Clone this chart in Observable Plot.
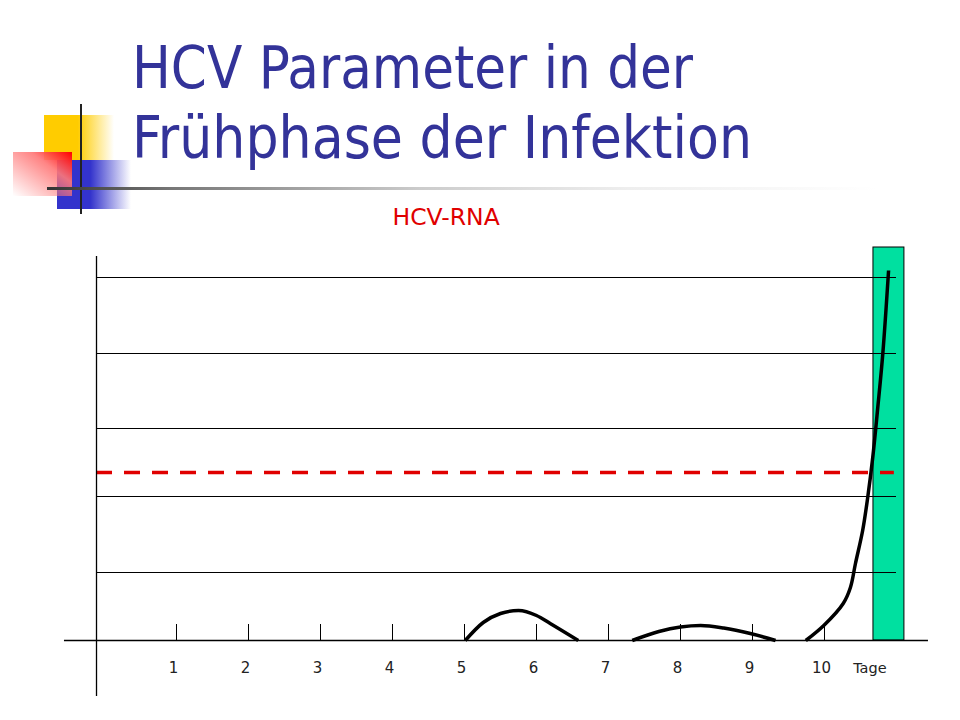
<!DOCTYPE html>
<html>
<head>
<meta charset="utf-8">
<script src="https://cdn.jsdelivr.net/npm/d3@7"></script>
<script src="https://cdn.jsdelivr.net/npm/@observablehq/plot@0.6"></script>
<style>
  html, body { margin: 0; padding: 0; background: #fff; }
  #page { position: relative; width: 960px; height: 720px; overflow: hidden; }
  #chart { position: absolute; left: 0; top: 0; }
  .title { position: absolute; left: 132px; font-family: "DejaVu Sans Condensed", "DejaVu Sans", sans-serif; font-stretch: condensed;
           font-size: 58px; line-height: 58px; color: #333399; white-space: nowrap; transform-origin: 0 0; }
  .deco { position: absolute; }
</style>
</head>
<body>
<div id="page">
  <div id="chart"></div>
  <div class="deco" style="left:44px;top:115px;width:70px;height:45px;background:linear-gradient(to right,#ffcc00 0%,#ffcc00 48%,rgba(255,255,255,0) 100%);"></div>
  <div class="deco" style="left:57px;top:160px;width:74px;height:49px;background:linear-gradient(to right,#3333cc 0%,#3333cc 45%,rgba(255,255,255,0) 100%);"></div>
  <div class="deco" style="left:13px;top:152px;width:59px;height:44px;background:linear-gradient(to bottom left,#ff0000 0%,rgba(255,120,120,0.9) 35%,rgba(255,255,255,0) 100%);"></div>
  <div class="deco" style="left:79.5px;top:104px;width:2px;height:110px;background:#222;"></div>
  <div class="deco" style="left:47px;top:187px;width:830px;height:3px;background:linear-gradient(to right,#333 0%,#777 15%,#ccc 45%,#eee 70%,rgba(255,255,255,0) 100%);"></div>
  <div class="title" id="t1" style="top:39px;">HCV Parameter in der</div>
  <div class="title" id="t2" style="top:109px;">Frühphase der Infektion</div>
</div>
<script>
// ---- data ----
const days = [1, 2, 3, 4, 5, 6, 7, 8, 9, 10];
const dayLabels = ["1", "2", "3", "4", "5", "6", "7", "8", "9", "10"];
const unitLabel = "Tage";
const unitLabelDay = 10.63;
const seriesLabel = "HCV-RNA";
const gridValues = [68, 144, 212, 287, 363];
const cutoffValue = 168;
const windowStart = 10.68, windowEnd = 11.11, windowTop = 393;
// curve segments: [day, value]
const seg1 = [[5.01, 0], [5.26, 18], [5.5, 27], [5.75, 30], [6.0, 25], [6.19, 17], [6.58, 0]];
const seg2 = [[7.33, 0], [7.7, 9], [8.0, 13.5], [8.28, 15], [8.6, 12.5], [8.97, 7], [9.32, 0]];
const seg3 = [[9.74, 0], [9.99, 15], [10.26, 37], [10.36, 53], [10.43, 77], [10.53, 110], [10.6, 143], [10.67, 183], [10.74, 233], [10.81, 287], [10.89, 370]];

const bumps = [
  ...seg1.map(([d, v]) => ({d, v, s: 1})),
  ...seg2.map(([d, v]) => ({d, v, s: 2}))
];
const rise = seg3.map(([d, v]) => ({d, v}));
const xAxisFrom = -0.556, xAxisTo = 11.444;
const yAxisAt = -0.111, yAxisFrom = -56, yAxisTo = 384;
const gridFrom = -0.111, gridTo = 11.0;

const chart = Plot.plot({
  width: 960,
  height: 720,
  margin: 0,
  x: {type: "linear", domain: [0, 11], range: [104, 896], axis: null},
  y: {type: "linear", domain: [0, 363], range: [640, 277], axis: null},
  style: {background: "transparent", fontFamily: "DejaVu Sans, sans-serif"},
  marks: [
    Plot.rect([{x1: windowStart, x2: windowEnd, y1: 0, y2: windowTop}], {x1: "x1", x2: "x2", y1: "y1", y2: "y2", fill: "#00e0a0", stroke: "#000", strokeWidth: 1}),
    Plot.ruleY(gridValues, {y: d => d, x1: gridFrom, x2: gridTo, stroke: "#000", strokeWidth: 1}),
    Plot.ruleY([cutoffValue], {y: d => d, x1: gridFrom, x2: gridTo - 0.03, stroke: "#e00000", strokeWidth: 3.5, strokeDasharray: "16,12"}),
    Plot.ruleY([0], {y: d => d, x1: xAxisFrom, x2: xAxisTo, stroke: "#000", strokeWidth: 1.3}),
    Plot.ruleX([yAxisAt], {x: d => d, y1: yAxisFrom, y2: yAxisTo, stroke: "#000", strokeWidth: 1.3}),
    Plot.ruleX(days, {x: d => d, y1: 0, y2: 16, stroke: "#000", strokeWidth: 1}),
    Plot.line(bumps, {x: "d", y: "v", z: "s", stroke: "#000", strokeWidth: 3.5, curve: "monotone-x", strokeLinecap: "butt"}),
    Plot.line(rise, {x: "d", y: "v", stroke: "#000", strokeWidth: 3.5, curve: "catmull-rom", strokeLinecap: "butt"}),
    Plot.text(days, {x: d => d, y: -32, text: (d, i) => dayLabels[i], dx: -3, fontSize: 15, fill: "#222", lineAnchor: "bottom", textAnchor: "middle"}),
    Plot.text([unitLabel], {x: unitLabelDay, y: -32, text: d => d, fontSize: 14.5, fill: "#222", lineAnchor: "bottom", textAnchor: "middle"}),
    Plot.text([seriesLabel], {x: 4.745, y: 416, text: d => d, fontSize: 23.5, fill: "#e00000", lineAnchor: "bottom", textAnchor: "middle"})
  ]
});
document.getElementById("chart").appendChild(chart);

// fit title widths to reference
const targets = {t1: 561, t2: 620};
for (const id in targets) {
  const el = document.getElementById(id);
  const w = el.getBoundingClientRect().width;
  el.style.transform = `scaleX(${targets[id] / w})`;
}
</script>
</body>
</html>
